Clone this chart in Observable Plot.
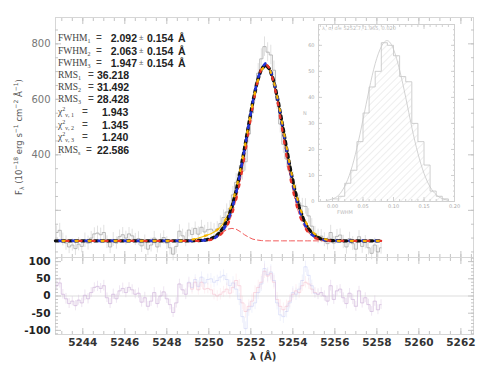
<!DOCTYPE html>
<html><head><meta charset="utf-8">
<script src="https://cdn.jsdelivr.net/npm/d3@7"></script>
<script src="https://cdn.jsdelivr.net/npm/@observablehq/plot@0.6"></script>
<style>
body{margin:0;background:#fff;}
#wrap{position:relative;width:490px;height:368px;overflow:hidden;font-family:"DejaVu Sans",sans-serif;}
#wrap svg{position:absolute;overflow:visible;}
.ln{position:absolute;left:0;height:12px;width:250px;}
.ln span{position:absolute;top:0;white-space:nowrap;line-height:12px;}
.lab{font-family:"Liberation Serif",serif;font-size:9.5px;color:#444;}
.eq{font-family:"Liberation Sans",sans-serif;font-size:10px;color:#444;}
.num{font-family:"Liberation Sans",sans-serif;font-weight:bold;font-size:10.5px;color:#222;}
.r{text-align:right;width:27px;}
.pm{font-family:"Liberation Sans",sans-serif;font-size:8px;color:#666;}
sub,sup{font-size:6px;line-height:0;}
sub{vertical-align:-2px;} sup{vertical-align:4px;}
.abs{position:absolute;white-space:nowrap;}
</style></head><body><div id="wrap">
<div class="ln" style="top:32px"><span class="lab" style="left:58px">FWHM<sub>1</sub></span><span class="eq" style="left:96px">=</span><span class="num r" style="left:110px">2.092</span><span class="pm" style="left:139px">±</span><span class="num" style="left:147px">0.154</span><span class="num" style="left:178px">Å</span></div>
<div class="ln" style="top:45px"><span class="lab" style="left:58px">FWHM<sub>2</sub></span><span class="eq" style="left:96px">=</span><span class="num r" style="left:110px">2.063</span><span class="pm" style="left:139px">±</span><span class="num" style="left:147px">0.154</span><span class="num" style="left:178px">Å</span></div>
<div class="ln" style="top:57px"><span class="lab" style="left:58px">FWHM<sub>3</sub></span><span class="eq" style="left:96px">=</span><span class="num r" style="left:110px">1.947</span><span class="pm" style="left:139px">±</span><span class="num" style="left:147px">0.154</span><span class="num" style="left:178px">Å</span></div>
<div class="ln" style="top:69px"><span class="lab" style="left:58px">RMS<sub>1</sub></span><span class="eq" style="left:88px">=</span><span class="num" style="left:97px">36.218</span></div>
<div class="ln" style="top:81px"><span class="lab" style="left:58px">RMS<sub>2</sub></span><span class="eq" style="left:88px">=</span><span class="num" style="left:97px">31.492</span></div>
<div class="ln" style="top:93px"><span class="lab" style="left:58px">RMS<sub>3</sub></span><span class="eq" style="left:88px">=</span><span class="num" style="left:97px">28.428</span></div>
<div class="ln" style="top:106px"><span class="lab" style="left:58px">χ<sup>2</sup><sub>ν, 1</sub></span><span class="eq" style="left:82px">=</span><span class="num" style="left:102px">1.943</span></div>
<div class="ln" style="top:119px"><span class="lab" style="left:58px">χ<sup>2</sup><sub>ν, 2</sub></span><span class="eq" style="left:82px">=</span><span class="num" style="left:102px">1.345</span></div>
<div class="ln" style="top:131px"><span class="lab" style="left:58px">χ<sup>2</sup><sub>ν, 3</sub></span><span class="eq" style="left:82px">=</span><span class="num" style="left:102px">1.240</span></div>
<div class="ln" style="top:144px"><span class="lab" style="left:58px">RMS<sub>s</sub></span><span class="eq" style="left:86px">=</span><span class="num" style="left:97px">22.586</span></div>
<div class="abs" style="left:19px;top:137px;transform:translate(-50%,-50%) rotate(-90deg);font-size:8.5px;color:#555;">F<sub>λ</sub> (10<sup>−18</sup> erg s<sup>−1</sup> cm<sup>−2</sup> Å<sup>−1</sup>)</div>
<div class="abs" style="left:263px;top:356px;transform:translate(-50%,-50%);font-size:10px;font-weight:bold;color:#333;">λ (Å)</div>
<div class="abs" style="left:322px;top:25px;font-size:5px;color:#bbb;">λ, σ, d= 5252.7, 1.965, 0.020</div>
<div class="abs" style="left:337px;top:209px;font-size:5px;color:#bbb;">FWHM</div>
<div class="abs" style="left:303px;top:110px;font-size:5px;color:#bbb;">N</div>
</div>
<script>
// ---------- spectrum (wavelength grid starts at 5242.75 Å, 0.15 Å pixels) ----------
const waveStart = 5242.75;
const waveStep = 0.15;
const fluxValues = [
  120,128,95,82,68,75,62,78,70,92,
  82,100,115,118,112,120,85,68,95,82,
  105,112,100,115,108,95,98,72,85,60,
  75,100,68,90,102,82,65,42,70,125,
  108,95,129,113,135,114,139,122,130,132,
  125,133,152,174,194,207,256,301,332,341,
  375,475,551,625,694,746,790,770,760,705,
  597,511,438,385,342,311,263,227,216,214,
  180,143,117,106,107,94,80,120,82,106,
  111,86,68,98,80,60,105,70,85,65,
  45,75,50,65];
const fluxErr = [
  24,25,23,26,24,22,25,24,23,26,
  25,24,22,25,24,26,23,24,25,22,
  24,26,25,23,24,22,25,24,26,23,
  25,24,22,25,24,23,26,24,25,23,
  24,26,25,24,23,26,25,24,26,25,
  27,26,28,27,29,28,30,31,30,32,
  33,32,34,33,35,36,35,34,35,33,
  34,32,33,31,30,29,30,28,27,28,
  26,27,25,26,24,25,23,26,24,25,
  22,24,26,23,25,24,22,25,24,26,
  23,25,24,23];
const residBlue = [
  30,38,5,-8,-22,-15,-28,-12,-20,2,
  -8,10,25,28,22,30,-5,-22,5,-8,
  15,22,10,25,18,5,8,-18,-5,-30,
  -15,10,-22,0,12,-8,-25,-48,-20,35,
  18,5,40,25,48,28,55,38,48,50,
  40,45,55,60,48,30,38,20,-10,-60,
  -95,-40,-30,-20,10,35,80,62,70,45,
  -20,-55,-60,-45,-20,10,5,20,45,85,
  60,30,8,5,10,0,-15,30,-10,15,
  20,-5,-22,8,-10,-30,15,-20,-5,-25,
  -45,-15,-40,-25];
const residRed = [
  30,38,5,-8,-22,-15,-28,-12,-20,2,
  -8,10,25,28,22,30,-5,-22,5,-8,
  15,22,10,25,18,5,8,-18,-5,-30,
  -15,10,-22,0,12,-8,-25,-48,-20,35,
  18,5,38,20,40,18,40,20,22,18,
  5,0,5,12,20,8,25,45,30,-20,
  -45,-30,-15,10,25,40,72,58,65,40,
  -10,-30,-40,-30,-15,5,15,10,30,40,
  35,20,10,5,10,0,-15,30,-10,15,
  20,-5,-22,8,-10,-30,15,-20,-5,-25,
  -45,-15,-40,-25];

// ---------- fitted models ----------
const fitWave = [5242.7,
  5248.7,5248.9,5249.1,5249.3,5249.5,5249.7,5249.9,5250.1,5250.3,5250.5,
  5250.7,5250.9,5251.1,5251.3,5251.5,5251.7,5251.9,5252.1,5252.3,5252.5,
  5252.7,
  5252.9,5253.1,5253.3,5253.5,5253.7,5253.9,5254.1,5254.3,5254.5,5254.7,
  5254.9,5255.1,5255.3,5255.5,5255.7,5255.9,5256.1,5256.3,5256.5,5256.7,
  5258.2];
const fitBlack = [90,
  90,90,90,91,91,92,94,98,105,118,138,168,212,269,341,423,510,593,663,709,
  725,
  709,663,593,510,423,341,269,212,168,138,118,105,98,94,92,91,91,90,90,90,
  90];
const fitBlue = [90,
  90,90,90,90,90,91,92,95,101,112,130,160,204,262,336,420,508,594,666,713,
  730,
  713,664,590,505,416,333,260,203,160,130,112,102,96,93,91,90,90,90,90,90,
  90];
const fitYellow = [90,
  90,91,93,96,100,105,110,116,124,136,154,182,222,276,345,425,510,592,660,706,
  722,
  708,662,594,512,427,346,275,218,175,145,124,111,102,96,93,91,90,90,90,90,
  90];
const compNarrow = [90,
  90,90,90,90,90,91,92,94,99,108,123,148,185,239,309,394,488,580,658,711,
  730,
  711,658,580,488,394,309,239,185,148,123,108,99,94,92,91,90,90,90,90,90,
  90];
const compWing = [90,
  90,90,90,90,90,91,93,96,103,112,123,132,135,132,123,112,103,96,93,91,
  90,
  90,90,90,90,90,90,90,90,90,90,90,90,90,90,90,90,90,90,90,90,
  90];

// ---------- inset histogram ----------
const histStart = [-0.02,-0.01,0.00,0.01,0.02,0.03,0.04,0.05,0.06,0.07,0.08,0.09,0.10,0.11,0.12,0.13,0.14,0.15,0.16,0.17,0.18,0.19];
const histCount = [0,0,1,2,7,12,23,34,44,50,61,60,56,48,46,30,23,14,4,2,1,0];
const binWidth = 0.01;
const gaussX = [-0.01,0,0.01,0.02,0.03,0.04,0.05,0.06,0.07,0.08,0.09,0.10,0.11,0.12,0.13,0.14,0.15,0.16,0.17,0.18,0.19];
const gaussN = [0.4,1.0,2.4,5.9,11.8,20.6,31.5,43,53,59.5,61.8,58.5,50.5,40,28.5,18.5,10.8,5.6,2.6,1.1,0.4];

// ---------- ticks ----------
const xMajor = [5244,5246,5248,5250,5252,5254,5256,5258,5260,5262];
const xMinor = d3.range(5243, 5262.6, 0.5);
const mainYLabels = [400,600,800];
const mainYMajor = [200,400,600,800];
const mainYMinor = d3.range(50, 895, 50);
const residYLabels = [-100,-50,0,50,100];
const residYMinor = d3.range(-110, 111, 10);
const insetXTicks = [0,0.05,0.10,0.15,0.20];
const insetXMinor = d3.range(-0.02, 0.2001, 0.01);
const insetYTicks = [0,10,20,30,40,50,60];
const insetYMinor = d3.range(0, 68, 2);

const wrap = document.getElementById("wrap");
const xDomain = [5242.7, 5262.6];
const tickC = "#c4c4c4";
const blank = () => "";

function inwardTicks(xMaj, xMin, yMaj, yMin, big, small, stroke) {
  const o = {stroke, label: null, tickFormat: blank};
  return [
    Plot.axisX(xMin, {...o, anchor: "top", tickSize: small, dy: small}),
    Plot.axisX(xMaj, {...o, anchor: "top", tickSize: big, dy: big}),
    Plot.axisX(xMin, {...o, anchor: "bottom", tickSize: small, dy: -small}),
    Plot.axisX(xMaj, {...o, anchor: "bottom", tickSize: big, dy: -big}),
    Plot.axisY(yMin, {...o, anchor: "left", tickSize: small, dx: small}),
    Plot.axisY(yMaj, {...o, anchor: "left", tickSize: big, dx: big}),
    Plot.axisY(yMin, {...o, anchor: "right", tickSize: small, dx: -small}),
    Plot.axisY(yMaj, {...o, anchor: "right", tickSize: big, dx: -big})
  ];
}

const spec = fluxValues.map((f, i) => ({
  w: +(waveStart + waveStep * i).toFixed(2), f, e: fluxErr[i], rb: residBlue[i], rr: residRed[i]
}));
const fits = fitWave.map((w, i) => ({
  w, k: fitBlack[i], b: fitBlue[i], yl: fitYellow[i], rn: compNarrow[i], rw: compWing[i]
}));

// ---------- main panel ----------
const main = Plot.plot({
  width: 490, height: 258,
  marginLeft: 55, marginRight: 17, marginTop: 17, marginBottom: 1,
  x: {domain: xDomain, label: null},
  y: {domain: [30, 895], label: null},
  style: {background: "transparent", fontFamily: "DejaVu Sans, sans-serif", fontSize: "10px", color: "#777"},
  marks: [
    Plot.frame({stroke: "#d6d6d6"}),
    ...inwardTicks(xMajor, xMinor, mainYMajor, mainYMinor, 6, 3, tickC),
    Plot.axisY(mainYLabels, {anchor: "left", tickSize: 0, tickPadding: 5, label: null, fill: "#777"}),
    Plot.ruleX(spec, {x: "w", y1: d => d.f - d.e, y2: d => d.f + d.e, stroke: "#cdcdcd", strokeWidth: 0.6}),
    Plot.line(spec, {x: "w", y: "f", curve: "step", stroke: "#a8a8a8", strokeWidth: 0.8}),
    Plot.line(fits, {x: "w", y: "rw", stroke: "#f25a5a", strokeWidth: 1, strokeDasharray: "5,3"}),
    Plot.line(fits, {x: "w", y: "rn", stroke: "#f25a5a", strokeWidth: 1, strokeDasharray: "5,3"}),
    Plot.line(fits, {x: "w", y: "yl", stroke: "#f6c200", strokeWidth: 1.1}),
    Plot.line(fits, {x: "w", y: "k", stroke: "#111", strokeWidth: 3.4, strokeDasharray: "3,3.5"}),
    Plot.line(fits, {x: "w", y: "b", stroke: "#2233d6", strokeWidth: 2.6, strokeDasharray: "2.5,10.5", strokeDashoffset: 9}),
    Plot.line(fits, {x: "w", y: "rn", stroke: "#e8342c", strokeWidth: 2.4, strokeDasharray: "2.5,10.5", strokeDashoffset: 2.5}),
    Plot.line(fits, {x: "w", y: "yl", stroke: "#f7b500", strokeWidth: 2.2, strokeDasharray: "2,11", strokeDashoffset: 6})
  ]
});
main.style.left = "0px"; main.style.top = "0px";
wrap.appendChild(main);

// ---------- residual panel ----------
const resid = Plot.plot({
  width: 490, height: 111,
  marginLeft: 55, marginRight: 17, marginTop: 0, marginBottom: 34,
  x: {domain: xDomain, label: null},
  y: {domain: [-112, 112], label: null},
  style: {background: "transparent", fontFamily: "DejaVu Sans, sans-serif", fontSize: "10.5px", color: "#222"},
  marks: [
    Plot.frame({stroke: "#d6d6d6"}),
    ...inwardTicks(xMajor, xMinor, residYLabels, residYMinor, 6, 3, tickC),
    Plot.ruleY([0], {stroke: "#d4d4d4", strokeWidth: 0.8}),
    Plot.ruleX(spec, {x: "w", y1: d => d.rr - d.e * 0.6, y2: d => d.rr + d.e * 0.6, stroke: "#f6c0cc", strokeOpacity: 0.4, strokeWidth: 0.6}),
    Plot.ruleX(spec, {x: "w", y1: d => d.rb - d.e * 0.6, y2: d => d.rb + d.e * 0.6, stroke: "#c0c6f4", strokeOpacity: 0.4, strokeWidth: 0.6}),
    Plot.line(spec, {x: "w", y: "rr", curve: "step", stroke: "#f2a8bc", strokeOpacity: 0.5, strokeWidth: 0.8}),
    Plot.line(spec, {x: "w", y: "rb", curve: "step", stroke: "#b0b8f0", strokeOpacity: 0.45, strokeWidth: 0.8}),
    Plot.axisY(residYLabels, {anchor: "left", tickSize: 0, tickPadding: 5, label: null, tickFormat: d => String(d), fill: "#222", fontWeight: "bold"}),
    Plot.axisX(xMajor, {anchor: "bottom", tickSize: 0, tickPadding: 4, label: null, tickFormat: d => String(d), fill: "#333", fontWeight: "bold"})
  ]
});
resid.style.left = "0px"; resid.style.top = "257px";
wrap.appendChild(resid);

// ---------- inset histogram ----------
const hist = histStart.map((x0, i) => ({x0, x1: x0 + binWidth, n: histCount[i]}));
const histOutline = hist.map(d => ({x: d.x0, n: d.n})).concat([{x: hist[hist.length - 1].x1, n: hist[hist.length - 1].n}]);
const gauss = gaussX.map((x, i) => ({x, n: gaussN[i]}));
const inset = Plot.plot({
  width: 180, height: 220,
  marginLeft: 28, marginRight: 16, marginTop: 24, marginBottom: 19,
  x: {domain: [-0.023, 0.2], label: null},
  y: {domain: [0, 68], label: null},
  style: {background: "transparent", fontFamily: "DejaVu Sans, sans-serif", fontSize: "5px", color: "#aaa"},
  marks: [
    Plot.rectY(hist, {x1: "x0", x2: "x1", y: "n", fill: "url(#hatch)"}),
    Plot.line(histOutline, {x: "x", y: "n", curve: "step-after", stroke: "#c4c4c4", strokeWidth: 0.8}),
    Plot.line(gauss, {x: "x", y: "n", curve: "natural", stroke: "#c8c8c8", strokeWidth: 0.8}),
    Plot.frame({stroke: "#d0d0d0"}),
    ...inwardTicks(insetXTicks, insetXMinor, insetYTicks, insetYMinor, 4, 2, "#d0d0d0"),
    Plot.axisX(insetXTicks, {anchor: "bottom", tickSize: 0, tickPadding: 3, label: null, tickFormat: d3.format(".2f"), fill: "#aaa"}),
    Plot.axisY(insetYTicks, {anchor: "left", tickSize: 0, tickPadding: 4, label: null, fill: "#aaa"})
  ]
});
const ns = "http://www.w3.org/2000/svg";
const defs = document.createElementNS(ns, "defs");
defs.innerHTML = '<pattern id="hatch" patternUnits="userSpaceOnUse" width="5" height="5" patternTransform="rotate(45)"><line x1="0" y1="0" x2="0" y2="5" stroke="#cfcfcf" stroke-width="0.7"/></pattern>';
inset.insertBefore(defs, inset.firstChild);
inset.style.left = "290px"; inset.style.top = "0px";
wrap.appendChild(inset);
</script></body></html>
